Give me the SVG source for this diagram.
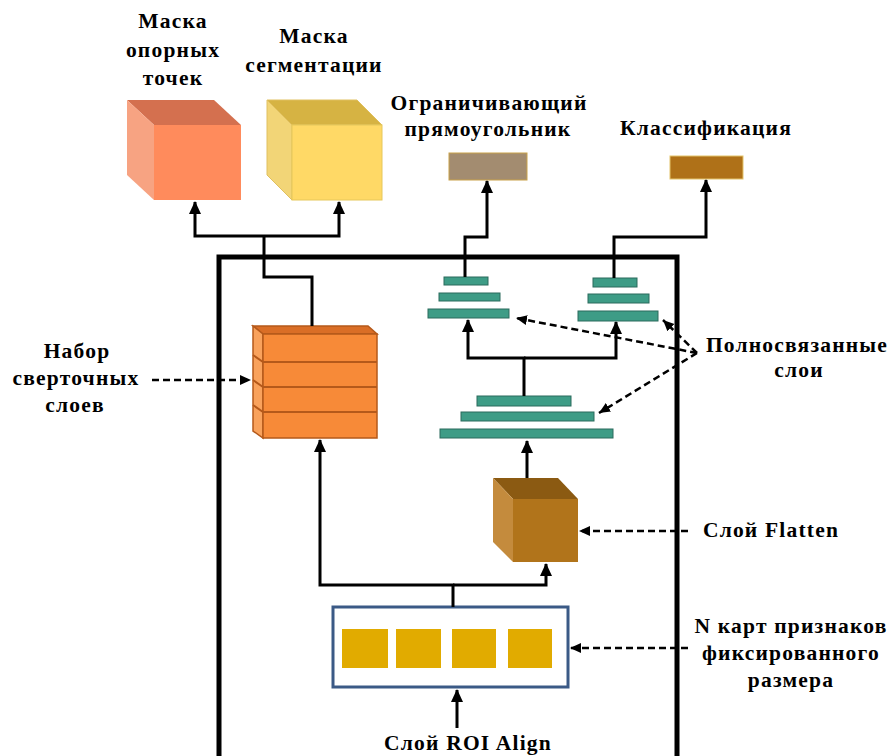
<svg xmlns="http://www.w3.org/2000/svg" width="893" height="756" viewBox="0 0 893 756">
  <defs>
    <marker id="arrow" markerUnits="userSpaceOnUse" markerWidth="14" markerHeight="14" viewBox="0 0 14 14" refX="12" refY="7" orient="auto">
      <path d="M0,1 L13,7 L0,13 Z" fill="#000"/>
    </marker>
    <marker id="arrowSmall" markerUnits="userSpaceOnUse" markerWidth="12" markerHeight="12" viewBox="0 0 12 12" refX="11" refY="6" orient="auto">
      <path d="M0,1 L11,6 L0,11 Z" fill="#000"/>
    </marker>
  </defs>
  <style>
    text { font-family: "Liberation Serif", "Times New Roman", serif; font-weight: bold; font-size: 21.5px; letter-spacing: 1.2px; fill: #000; text-anchor: middle; }
    .conn { fill: none; stroke: #000; stroke-width: 3; }
    .dash { fill: none; stroke: #000; stroke-width: 2.5; stroke-dasharray: 7 4; }
    .frame { fill: none; stroke: #000; stroke-width: 5; }
    .fc { fill: #3E9C86; stroke: #2A6B5C; stroke-width: 1; }
    .fmap { fill: #E1AB00; }
    .conv-front { fill: #F78A38; stroke: #B5591A; stroke-width: 1.5; }
    .conv-top { fill: #DA6E26; stroke: #B5591A; stroke-width: 1.5; }
    .conv-side { fill: #F9A25C; stroke: #B5591A; stroke-width: 1.5; }
  </style>
  <rect width="893" height="756" fill="#fff"/>

  <!-- outer frame of the head -->
  <path class="frame" d="M219,760 V257 H677 V760"/>

  <!-- output: keypoint mask -->
  <g id="keypoint-mask">
    <polygon points="127,100 214,100 241,125 154,125" fill="#D4704F"/>
    <polygon points="127,100 154,125 154,200 127,175" fill="#F7A382"/>
    <rect x="154" y="125" width="87" height="75" fill="#FF8B5C"/>
    <text x="173" y="28">Маска</text>
    <text x="173" y="57">опорных</text>
    <text x="173" y="85">точек</text>
  </g>

  <!-- output: segmentation mask -->
  <g id="segmentation-mask">
    <polygon points="267,100 357,100 382,125 292,125" fill="#D6B343" stroke="#E0C060" stroke-width="1"/>
    <polygon points="267,100 292,125 292,200 267,175" fill="#F2D577" stroke="#E0C060" stroke-width="1"/>
    <rect x="292" y="125" width="90" height="75" fill="#FFD966" stroke="#E6C75A" stroke-width="1"/>
    <text x="314" y="43">Маска</text>
    <text x="314" y="72">сегментации</text>
  </g>

  <!-- output: bounding box -->
  <g id="bbox">
    <rect x="449" y="153" width="78" height="27" fill="#A38C70" stroke="#C9A24A" stroke-width="1"/>
    <text x="489" y="110">Ограничивающий</text>
    <text x="488" y="136">прямоугольник</text>
  </g>

  <!-- output: classification -->
  <g id="classification">
    <rect x="670" y="156" width="73" height="23" fill="#AF7118" stroke="#E3C46A" stroke-width="1"/>
    <text x="706" y="135">Классификация</text>
  </g>

  <!-- stack of convolution layers -->
  <g id="conv-stack">
    <polygon class="conv-top" points="253,326 368,326 377,334 263,334"/>
    <polygon class="conv-side" points="253,326 263,334 263,438 253,431"/>
    <rect class="conv-front" x="263" y="334" width="114" height="104"/>
    <path d="M263,362 H377 M263,387 H377 M263,412 H377 M253,355 L263,362 M253,380 L263,387 M253,405 L263,412" stroke="#B5591A" stroke-width="2" fill="none"/>
  </g>

  <!-- fully connected layers, bounding box branch -->
  <g id="fc-bbox">
    <rect class="fc" x="444" y="277" width="44" height="8"/>
    <rect class="fc" x="439" y="293" width="61" height="8"/>
    <rect class="fc" x="428" y="309" width="81" height="9"/>
  </g>

  <!-- fully connected layers, class branch -->
  <g id="fc-class">
    <rect class="fc" x="593" y="278" width="44" height="9"/>
    <rect class="fc" x="588" y="294" width="61" height="9"/>
    <rect class="fc" x="578" y="311" width="80" height="10"/>
  </g>

  <!-- shared fully connected layers -->
  <g id="fc-shared">
    <rect class="fc" x="477" y="396" width="94" height="10"/>
    <rect class="fc" x="461" y="412" width="133" height="9"/>
    <rect class="fc" x="440" y="429" width="173" height="9"/>
  </g>

  <!-- flatten layer -->
  <g id="flatten">
    <polygon points="493,478 558,478 578,499 513,499" fill="#8B5A12"/>
    <polygon points="493,478 513,499 513,562 493,542" fill="#C48B3D"/>
    <rect x="513" y="499" width="65" height="63" fill="#B1741B"/>
  </g>

  <!-- fixed-size feature maps -->
  <g id="feature-maps">
    <rect x="333" y="607" width="235" height="80" fill="#fff" stroke="#3B5A86" stroke-width="3"/>
    <rect class="fmap" x="342" y="629" width="46" height="39"/>
    <rect class="fmap" x="396" y="629" width="45" height="39"/>
    <rect class="fmap" x="452" y="629" width="44" height="39"/>
    <rect class="fmap" x="508" y="629" width="44" height="39"/>
  </g>

  <!-- side labels -->
  <g id="label-conv">
    <text x="77" y="358">Набор</text>
    <text x="76" y="385">сверточных</text>
    <text x="75" y="412">слоев</text>
  </g>
  <g id="label-fc">
    <text x="797" y="352">Полносвязанные</text>
    <text x="799" y="377">слои</text>
  </g>
  <g id="label-flatten">
    <text x="771" y="537">Слой Flatten</text>
  </g>
  <g id="label-fmaps">
    <text x="791" y="633">N карт признаков</text>
    <text x="791" y="660">фиксированного</text>
    <text x="791" y="687">размера</text>
  </g>
  <g id="label-roi">
    <text x="468" y="750">Слой ROI Align</text>
  </g>

  <!-- connectors -->
  <g id="connectors">
    <path class="conn" d="M312,326 V277 H264 V236"/>
    <path class="conn" d="M264,236 H195 V202" marker-end="url(#arrow)"/>
    <path class="conn" d="M264,236 H339 V202" marker-end="url(#arrow)"/>
    <path class="conn" d="M465,277 V237 H487 V181" marker-end="url(#arrow)"/>
    <path class="conn" d="M614,278 V237 H706 V180" marker-end="url(#arrow)"/>
    <path class="conn" d="M524,396 V358 H468 V320" marker-end="url(#arrow)"/>
    <path class="conn" d="M524,358 H616 V322" marker-end="url(#arrow)"/>
    <path class="conn" d="M527,478 V441" marker-end="url(#arrow)"/>
    <path class="conn" d="M453,607 V585 H320 V440" marker-end="url(#arrow)"/>
    <path class="conn" d="M453,585 H546 V564" marker-end="url(#arrow)"/>
    <path class="conn" d="M457,728 V690" marker-end="url(#arrow)"/>

    <path class="dash" d="M152,380 H251" marker-end="url(#arrowSmall)"/>
    <path class="dash" d="M697,353 L516,318" marker-end="url(#arrowSmall)"/>
    <path class="dash" d="M697,353 L663,320" marker-end="url(#arrowSmall)"/>
    <path class="dash" d="M697,353 L599,413" marker-end="url(#arrowSmall)"/>
    <path class="dash" d="M688,531 H579" marker-end="url(#arrowSmall)"/>
    <path class="dash" d="M688,648 H570" marker-end="url(#arrowSmall)"/>
  </g>
</svg>
